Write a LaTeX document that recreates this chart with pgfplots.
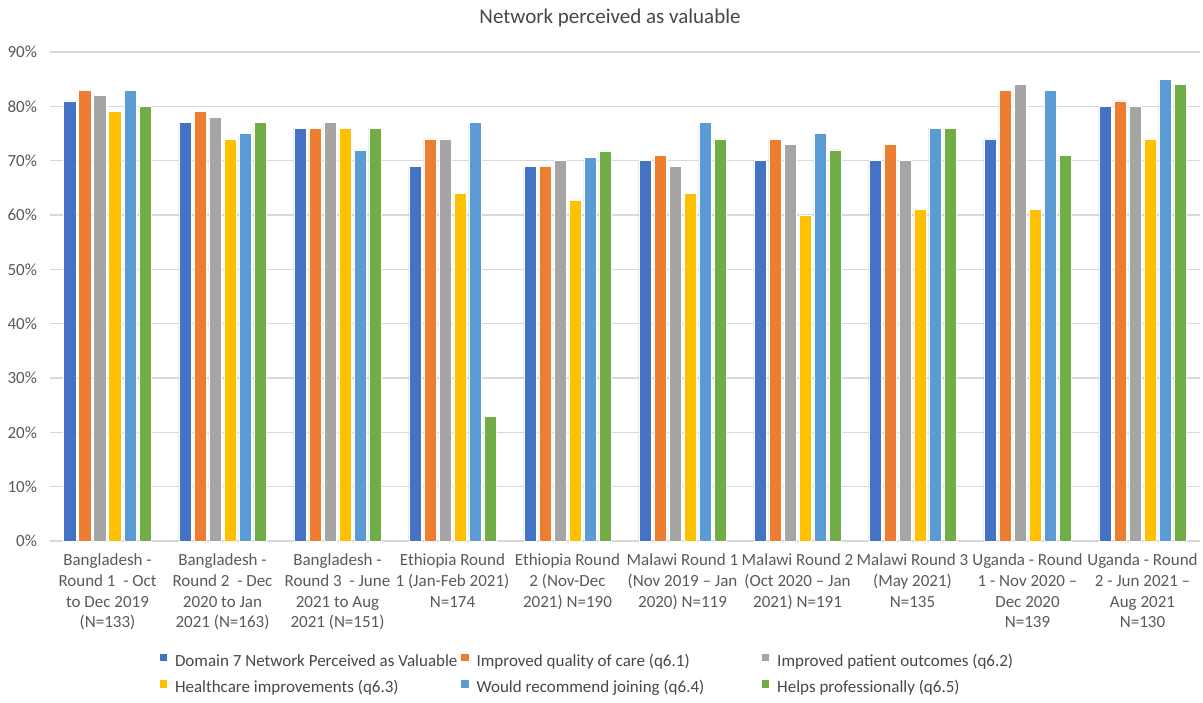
\documentclass[border=0pt]{standalone}
\usepackage{pgfplots}
\pgfplotsset{compat=1.18}
\usepackage{fontspec}
\setmainfont{Carlito}

\definecolor{c1}{HTML}{4472C4}
\definecolor{c2}{HTML}{ED7D31}
\definecolor{c3}{HTML}{A5A5A5}
\definecolor{c4}{HTML}{FFC000}
\definecolor{c5}{HTML}{5B9BD5}
\definecolor{c6}{HTML}{70AD47}
\definecolor{gridgray}{HTML}{D9D9D9}
\definecolor{labelgray}{HTML}{595959}

\pgfplotsset{
  sq/.style={legend image code/.code={
      \fill[##1,draw=none] (0pt,0.2pt) rectangle (3.7pt,3.9pt);
      \path (0pt,0pt) -- (7.5pt,0pt);}},
}

\begin{document}
\begin{tikzpicture}
\begin{axis}[
    at={(0,0)}, anchor=south west,
    scale only axis,
    width=575pt, height=244.5pt,
    ybar=1.3pt, bar width=6.2pt,
    xmin=-0.5, xmax=9.5,
    ymin=0, ymax=90,
    xtick={0,...,9},
    xticklabels={
      {Bangladesh -\\Round 1 \ - Oct\\to Dec 2019\\(N=133)},
      {Bangladesh -\\Round 2 \ - Dec\\2020 to Jan\\2021 (N=163)},
      {Bangladesh -\\Round 3 \ - June\\2021 to Aug\\2021 (N=151)},
      {Ethiopia Round\\1 (Jan-Feb 2021)\\N=174},
      {Ethiopia Round\\2 (Nov-Dec\\2021) N=190},
      {Malawi Round 1\\(Nov 2019 – Jan\\2020) N=119},
      {Malawi Round 2\\(Oct 2020 – Jan\\2021) N=191},
      {Malawi Round 3\\(May 2021)\\N=135},
      {Uganda - Round\\1 - Nov 2020 –\\Dec 2020\\N=139},
      {Uganda - Round\\2 - Jun 2021 –\\Aug 2021\\N=130}},
    ytick={0,10,...,90},
    yticklabels={0\%,10\%,20\%,30\%,40\%,50\%,60\%,70\%,80\%,90\%},
    major tick length=0pt,
    axis line style={draw=none},
    ymajorgrids=true,
    grid style={draw=gridgray, line width=0.7pt},
    x tick label style={font=\fontsize{8.5}{10.3}\selectfont, text=labelgray,
      align=center, yshift=-3pt},
    y tick label style={font=\fontsize{8.5}{10.3}\selectfont, text=labelgray,
      xshift=-3pt},
    title={Network perceived as valuable},
    title style={font=\fontsize{10.5}{12}\selectfont, text=labelgray!80!black,
      at={(0.5,1)}, anchor=center, yshift=11pt, xshift=-7.5pt},
    legend columns=3,
    legend cell align=left,
    legend style={at={(0.0948,-0.230)}, anchor=north west,
      draw=none, fill=none, inner sep=0pt,
      font=\fontsize{8.5}{10.3}\selectfont, text=labelgray!80!black,
      nodes={inner sep=0pt}, row sep=5.5pt, column sep=0pt},
]
\addplot[fill=c1, draw=white, line width=0.3pt, sq] coordinates
  {(0,81)(1,77)(2,76)(3,69)(4,69)(5,70)(6,70)(7,70)(8,74)(9,80)};
\addlegendentry{\makebox[143pt][l]{Domain 7 Network Perceived as Valuable}}
\addplot[fill=c2, draw=white, line width=0.3pt, sq] coordinates
  {(0,83)(1,79)(2,76)(3,74)(4,69)(5,71)(6,74)(7,73)(8,83)(9,81)};
\addlegendentry{\makebox[142.5pt][l]{Improved quality of care (q6.1)}}
\addplot[fill=c3, draw=white, line width=0.3pt, sq] coordinates
  {(0,82)(1,78)(2,77)(3,74)(4,70)(5,69)(6,73)(7,70)(8,84)(9,80)};
\addlegendentry{Improved patient outcomes (q6.2)}
\addplot[fill=c4, draw=white, line width=0.3pt, sq] coordinates
  {(0,79)(1,74)(2,76)(3,64)(4,62.7)(5,64)(6,60)(7,61)(8,61)(9,74)};
\addlegendentry{\makebox[143pt][l]{Healthcare improvements (q6.3)}}
\addplot[fill=c5, draw=white, line width=0.3pt, sq] coordinates
  {(0,83)(1,75)(2,72)(3,77)(4,70.6)(5,77)(6,75)(7,76)(8,83)(9,85)};
\addlegendentry{\makebox[142.5pt][l]{Would recommend joining (q6.4)}}
\addplot[fill=c6, draw=white, line width=0.3pt, sq] coordinates
  {(0,80)(1,77)(2,76)(3,23)(4,71.8)(5,74)(6,72)(7,76)(8,71)(9,84)};
\addlegendentry{Helps professionally (q6.5)}
\end{axis}
\pgfresetboundingbox
\path[use as bounding box] (-25pt,-80.5pt) rectangle (576.5pt,270.5pt);
\end{tikzpicture}
\end{document}
